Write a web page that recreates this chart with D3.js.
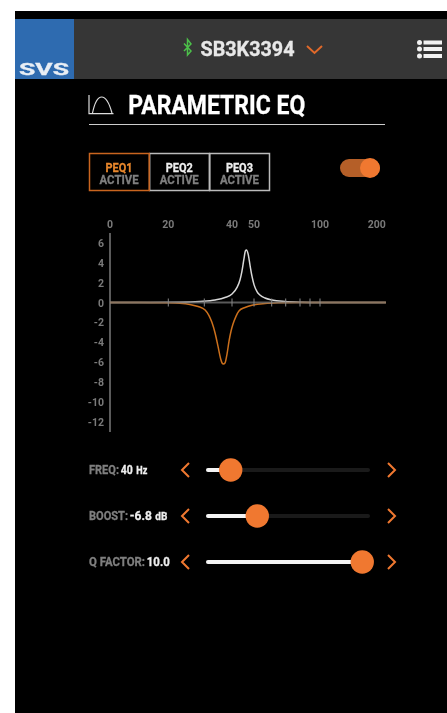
<!DOCTYPE html>
<html>
<head>
<meta charset="utf-8">
<script src="https://cdn.jsdelivr.net/npm/d3@7"></script>
<style>
html, body { margin: 0; padding: 0; background: #fff; overflow: hidden; }
text { font-family: Roboto, sans-serif; }
</style>
</head>
<body>
<div id="chart"></div>
<script>
// chart values
const tickFreqs = [20, 30, 40, 50, 60, 70, 80, 90, 100];
const freqLabels = [0, 20, 40, 50, 100, 200];
const gainLabels = [6, 4, 2, 0, -2, -4, -6, -8, -10, -12];

const peq2Freq = [10.8, 16.5, 22.6, 27.9, 32.8, 36.4, 39.2, 41.3, 42.7, 43.6, 44.5, 45.2, 45.7, 46.5, 47.5, 48.5, 49.5, 51.1, 52.7, 55.6, 59.9, 68.7, 80.6, 99.6, 200];
const peq2Gain = [0, 0, 0.02, 0.1, 0.25, 0.5, 0.85, 1.5, 2.3, 3.2, 4.4, 5.2, 5.3, 4.9, 3.7, 2.6, 1.8, 1.1, 0.75, 0.45, 0.25, 0.1, 0.03, 0, 0];

const peq1Freq = [10.8, 14.8, 20, 22.6, 25.1, 27.4, 29.5, 30.7, 31.7, 32.8, 33.8, 34.7, 35.3, 35.8, 36.4, 37.2, 38.0, 38.8, 39.6, 40.9, 42.2, 45.0, 49.0, 55.6, 65.2, 80.6, 200];
const peq1Gain = [0, 0, -0.03, -0.08, -0.2, -0.4, -0.75, -1.3, -2, -3.1, -4.4, -5.6, -6.1, -6.2, -6.1, -5.2, -3.9, -2.9, -2.2, -1.4, -0.85, -0.5, -0.25, -0.1, -0.03, 0, 0];

const peqNames = ["PEQ1", "PEQ2", "PEQ3"];
const sliderLabels = ["FREQ:", "BOOST:", "Q FACTOR:"];
const sliderValues = ["40", "-6.8", "10.0"];
const sliderUnits = ["Hz", "dB", ""];
const sliderFractions = [0.142, 0.308, 0.964];

const orange = "#f07830";
const curveOrange = "#cc701c";

const svg = d3.select("#chart").append("svg")
	.attr("width", 447)
	.attr("height", 713)
	.style("display", "block");

// squeeze Roboto to look like the condensed app font, thin stroke makes it heavier
const label = (g, x, y, str, size, fill, width, anchor = "start", weight = 700) =>
	g.append("text")
		.attr("x", x)
		.attr("y", y)
		.attr("font-size", size)
		.attr("font-weight", weight)
		.attr("fill", fill)
		.attr("stroke", fill)
		.attr("stroke-width", 0.3)
		.attr("text-anchor", anchor)
		.attr("textLength", width)
		.attr("lengthAdjust", "spacingAndGlyphs")
		.text(str);

const page = svg.append("g").style("filter", "blur(0.45px)");

page.append("rect").attr("x", 15).attr("y", 11).attr("width", 432).attr("height", 702).attr("fill", "#000");

// header bar
page.append("rect").attr("x", 15).attr("y", 19).attr("width", 432).attr("height", 60).attr("fill", "#363636");
page.append("rect").attr("x", 15).attr("y", 19).attr("width", 59).attr("height", 60).attr("fill", "#2e6bb0");
label(page, 44, 74.500, "SVS", 17, "#e8eef5", 50, "middle");
page.append("path")
	.attr("d", "M184 43.500L191 51 187.500 55V39.500L191 44 184 51")
	.attr("fill", "none").attr("stroke", "#4cc04a").attr("stroke-width", 1.500);
label(page, 200.500, 56, "SB3K3394", 19.500, "#e8e8e8", 94);
page.append("path")
	.attr("d", "M307 46l7.500 7 7.500-7")
	.attr("fill", "none").attr("stroke", "#e0692a").attr("stroke-width", 2);
[42.500, 49, 56].forEach(y => {
	page.append("circle").attr("cx", 419.500).attr("cy", y).attr("r", 2.500).attr("fill", "#f2f2f2");
	page.append("rect").attr("x", 423.500).attr("y", y - 2).attr("width", 18.500).attr("height", 4).attr("fill", "#f2f2f2");
});

// page title
page.append("path")
	.attr("d", "M89 95V113.700H113.500M92.500 113C97 91.700 106 91.700 112 113")
	.attr("fill", "none").attr("stroke", "#ddd").attr("stroke-width", 1.200);
label(page, 128.300, 113.500, "PARAMETRIC EQ", 25, "#fff", 177);
page.append("line").attr("x1", 89).attr("x2", 385).attr("y1", 124.500).attr("y2", 124.500).attr("stroke", "#ccc");

// PEQ tabs
const tabX = d3.scaleBand().domain(peqNames).range([89, 269.500]);
peqNames.forEach((name, i) => {
	if (i > 0) page.append("rect").attr("x", tabX(name) + 0.500).attr("y", 153.500).attr("width", tabX.bandwidth() - 0.500).attr("height", 37)
		.attr("fill", "none").attr("stroke", "#bbb").attr("stroke-width", 1.500);
});
page.append("rect").attr("x", 89.500).attr("y", 153.500).attr("width", tabX.bandwidth() - 0.500).attr("height", 37)
	.attr("fill", "none").attr("stroke", "#c9651f").attr("stroke-width", 1.500);
peqNames.forEach((name, i) => {
	const cx = tabX(name) + tabX.bandwidth() / 2;
	label(page, cx, 171.500, name, 12.500, i === 0 ? "#e8872c" : "#eee", 27, "middle");
	label(page, cx, 183.500, "ACTIVE", 12.500, "#7f7f7f", 39, "middle");
});

// on/off switch
page.append("rect").attr("x", 340).attr("y", 159).attr("width", 40).attr("height", 18).attr("rx", 9).attr("fill", "#b55f28");
page.append("circle").attr("cx", 370).attr("cy", 168).attr("r", 10).attr("fill", orange);

// EQ plot
const x = d3.scaleLog().domain([20, 200]).range([168.400, 385.900]);
// the app spaces its tick marks a little unevenly
const xTick = d3.scaleLog()
	.domain([...tickFreqs, 200])
	.range([168.300, 204.300, 232, 254, 271.700, 285.700, 300, 310, 320, 385.900]);
const y = d3.scaleLinear().domain([0, -12]).range([302.500, 421.500]);
const xStart = 110;

const plot = page.append("g");
plot.append("line").attr("x1", xStart).attr("x2", xStart).attr("y1", 233).attr("y2", 432).attr("stroke", "#999").attr("stroke-width", 1.200);

plot.selectAll(".freq-label").data(freqLabels).enter().append("text")
	.attr("class", "freq-label")
	.attr("x", d => d === 0 ? xStart : xTick(d))
	.attr("y", 228)
	.attr("text-anchor", d => d === 200 ? "end" : "middle")
	.attr("font-size", 10.500)
	.attr("font-weight", 700)
	.attr("fill", "#7a7a7a")
	.text(d => d);

plot.selectAll(".gain-label").data(gainLabels).enter().append("text")
	.attr("class", "gain-label")
	.attr("x", 104)
	.attr("y", d => y(d) + 4)
	.attr("text-anchor", "end")
	.attr("font-size", 10.500)
	.attr("font-weight", 700)
	.attr("fill", "#7a7a7a")
	.text(d => d);

const line = d3.line()
	.x(d => x(d[0]))
	.y(d => y(d[1]))
	.curve(d3.curveMonotoneX);

plot.append("path")
	.attr("d", line(d3.zip(peq2Freq, peq2Gain)))
	.attr("fill", "none").attr("stroke", "#d8d8d8").attr("stroke-width", 1.500);
plot.append("path")
	.attr("d", line(d3.zip(peq1Freq, peq1Gain)))
	.attr("fill", "none").attr("stroke", curveOrange).attr("stroke-width", 1.500);

// zero line goes over the curves, that gives it the tan tint
plot.append("line").attr("x1", xStart).attr("x2", xTick(200)).attr("y1", y(0)).attr("y2", y(0))
	.attr("stroke", "#777").attr("stroke-opacity", 0.75).attr("stroke-width", 1.800);

plot.selectAll(".freq-tick").data(tickFreqs).enter().append("line")
	.attr("class", "freq-tick")
	.attr("x1", d => xTick(d)).attr("x2", d => xTick(d))
	.attr("y1", y(0) - 4).attr("y2", y(0) + 4)
	.attr("stroke", "#888");

// sliders
const sliderX = d3.scaleLinear().domain([0, 1]).range([208, 368]);
const sliderY = d3.scalePoint().domain(sliderLabels).range([470, 562]);
const labelWidths = [30, 39, 56];
const valueWidths = [12, 22, 23];
const unitWidths = [11, 12, 0];

sliderLabels.forEach((name, i) => {
	const cy = sliderY(name);
	const valueX = 89 + labelWidths[i] + 1.800;
	label(page, 89, cy + 4, name, 12.500, "#7f7f7f", labelWidths[i]);
	label(page, valueX, cy + 4, sliderValues[i], 12.500, "#eee", valueWidths[i]);
	if (sliderUnits[i]) label(page, valueX + valueWidths[i] + 3.500, cy + 4, sliderUnits[i], 10, "#eee", unitWidths[i]);

	page.append("path").attr("d", `M189 ${cy - 7}l-7 7 7 7`).attr("fill", "none").attr("stroke", orange).attr("stroke-width", 2);
	page.append("path").attr("d", `M388 ${cy - 7}l7 7-7 7`).attr("fill", "none").attr("stroke", orange).attr("stroke-width", 2);

	page.append("line").attr("x1", sliderX(0)).attr("x2", sliderX(1)).attr("y1", cy).attr("y2", cy)
		.attr("stroke", "#1a1a1a").attr("stroke-width", 4).attr("stroke-linecap", "round");
	page.append("line").attr("x1", sliderX(0)).attr("x2", sliderX(sliderFractions[i])).attr("y1", cy).attr("y2", cy)
		.attr("stroke", "#f4f4f4").attr("stroke-width", 4).attr("stroke-linecap", "round");
	page.append("circle").attr("cx", sliderX(sliderFractions[i])).attr("cy", cy).attr("r", 11.700).attr("fill", orange);
});
</script>
</body>
</html>
